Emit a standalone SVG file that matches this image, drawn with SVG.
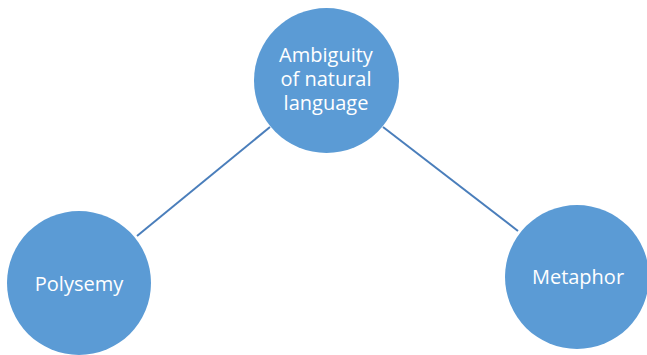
<svg xmlns="http://www.w3.org/2000/svg" width="647" height="355" viewBox="0 0 647 355">
<style>
.node{fill:#5b9bd5;}
.lbl{fill:#ffffff;font-family:"Open Sans","Noto Sans",sans-serif;font-size:20px;text-anchor:middle;}
.edge{stroke:#4a7ebb;stroke-width:2;fill:none;}
</style>
<rect width="647" height="355" fill="#ffffff"/>
<g id="connectors">
<line class="edge" x1="137" y1="236" x2="270" y2="127"/>
<line class="edge" x1="383" y1="127" x2="518" y2="231"/>
</g>
<g id="node-ambiguity">
<circle class="node" cx="326.5" cy="80.5" r="72.5"/>
<text class="lbl" x="326" y="62">Ambiguity</text>
<text class="lbl" x="326" y="86">of natural</text>
<text class="lbl" x="326" y="110">language</text>
</g>
<g id="node-polysemy">
<circle class="node" cx="79" cy="283" r="72"/>
<text class="lbl" x="79" y="291">Polysemy</text>
</g>
<g id="node-metaphor">
<circle class="node" cx="577" cy="277" r="72"/>
<text class="lbl" x="578" y="284">Metaphor</text>
</g>
</svg>
